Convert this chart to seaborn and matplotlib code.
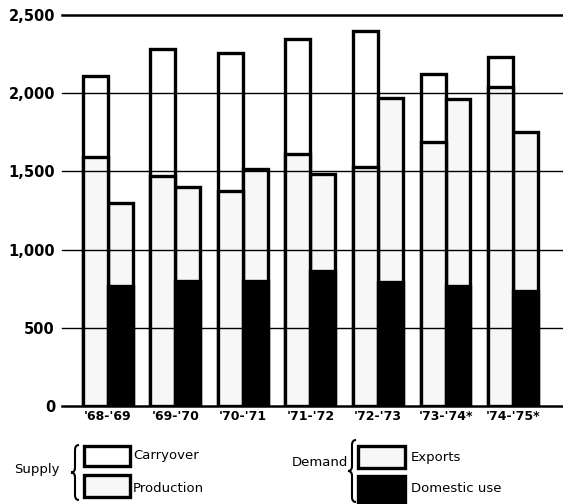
import matplotlib
matplotlib.use('Agg')
import matplotlib.pyplot as plt
from matplotlib.patches import Rectangle, PathPatch
from matplotlib.path import Path
import pandas as pd
import seaborn as sns

# Values (million bushels)
seasons = ["'68-'69", "'69-'70", "'70-'71", "'71-'72", "'72-'73", "'73-'74*", "'74-'75*"]
carryover = [520, 810, 880, 735, 875, 430, 190]
production = [1590, 1470, 1375, 1610, 1525, 1690, 2040]
exports = [525, 600, 715, 620, 1175, 1200, 1015]
domestic = [770, 800, 800, 865, 795, 765, 735]
y_ticks = [0, 500, 1000, 1500, 2000, 2500]
y_labels = ['0', '500', '1,000', '1,500', '2,000', '2,500']

light = '#f7f7f7'
W, H = 563, 504

supply_total = [c + p for c, p in zip(carryover, production)]
demand_total = [e + d for e, d in zip(exports, domestic)]

top = pd.DataFrame({
    'season': seasons * 2,
    'side': ['Supply'] * len(seasons) + ['Demand'] * len(seasons),
    'value': supply_total + demand_total,
})
low = pd.DataFrame({
    'season': seasons * 2,
    'side': ['Supply'] * len(seasons) + ['Demand'] * len(seasons),
    'value': production + domestic,
})

fig = plt.figure(figsize=(W / 100, H / 100), dpi=100)
ax = fig.add_axes([62 / W, 98 / H, (W - 62) / W, (406 - 15) / H])

bar_kw = dict(x='season', y='value', hue='side', order=seasons,
              hue_order=['Supply', 'Demand'], width=0.74, edgecolor='black',
              linewidth=2.4, saturation=1, errorbar=None, legend=False, ax=ax)
sns.barplot(data=top, palette=['white', light], **bar_kw)
sns.barplot(data=low, palette=[light, 'black'], **bar_kw)

for v in y_ticks:
    ax.axhline(v, color='black', lw=1.8 if v in (0, 2500) else 1.0,
               zorder=3, clip_on=False)

ax.set_ylim(0, 2500)
ax.set_xlim(-0.68, 6.74)
ax.set_yticks(y_ticks)
ax.set_yticklabels(y_labels, fontsize=10.5, fontweight='bold')
ax.set_xticks(range(len(seasons)))
ax.set_xticklabels(seasons, fontsize=9, fontweight='bold')
ax.tick_params(axis='both', length=0)
ax.tick_params(axis='y', pad=5)
ax.tick_params(axis='x', pad=3)
ax.set_xlabel('')
ax.set_ylabel('')
for s in ax.spines.values():
    s.set_visible(False)


def fx(x):
    return x / W


def fy(y):
    return 1 - y / H


def brace(xl, xr, yt, yb):
    # opening curly brace drawn in pixel coords of the figure
    ym = (yt + yb) / 2
    xm = (xl + xr) / 2
    r = 5
    verts = [(xr, yt), (xm, yt), (xm, yt + r),
             (xm, ym - r), (xm, ym), (xl, ym),
             (xm, ym), (xm, ym + r),
             (xm, yb - r), (xm, yb), (xr, yb)]
    codes = [Path.MOVETO, Path.CURVE3, Path.CURVE3,
             Path.LINETO, Path.CURVE3, Path.CURVE3,
             Path.CURVE3, Path.CURVE3,
             Path.LINETO, Path.CURVE3, Path.CURVE3]
    verts = [(fx(a), fy(b)) for a, b in verts]
    fig.patches.append(PathPatch(Path(verts, codes), transform=fig.transFigure,
                                 fill=False, lw=1.5, color='black'))


def box(x0, y0, x1, y1, color):
    fig.patches.append(Rectangle((fx(x0), fy(y1)), fx(x1) - fx(x0), fy(y0) - fy(y1),
                                 transform=fig.transFigure, facecolor=color,
                                 edgecolor='black', lw=2.4))


# legend
fig.text(fx(14), fy(469), 'Supply', fontsize=9.5, va='center', ha='left')
brace(71, 79, 445, 500)
box(84, 446, 130, 466, 'white')
box(84, 475, 130, 497, light)
fig.text(fx(133), fy(455), 'Carryover', fontsize=9.5, va='center', ha='left')
fig.text(fx(133), fy(488), 'Production', fontsize=9.5, va='center', ha='left')

fig.text(fx(292), fy(463), 'Demand', fontsize=9.5, va='center', ha='left')
brace(348, 356, 440, 502)
box(358, 446, 405, 468, light)
box(358, 476, 405, 502, 'black')
fig.text(fx(411), fy(458), 'Exports', fontsize=9.5, va='center', ha='left')
fig.text(fx(411), fy(488), 'Domestic use', fontsize=9.5, va='center', ha='left')

fig.savefig('out.png', dpi=100)
plt.close(fig)
